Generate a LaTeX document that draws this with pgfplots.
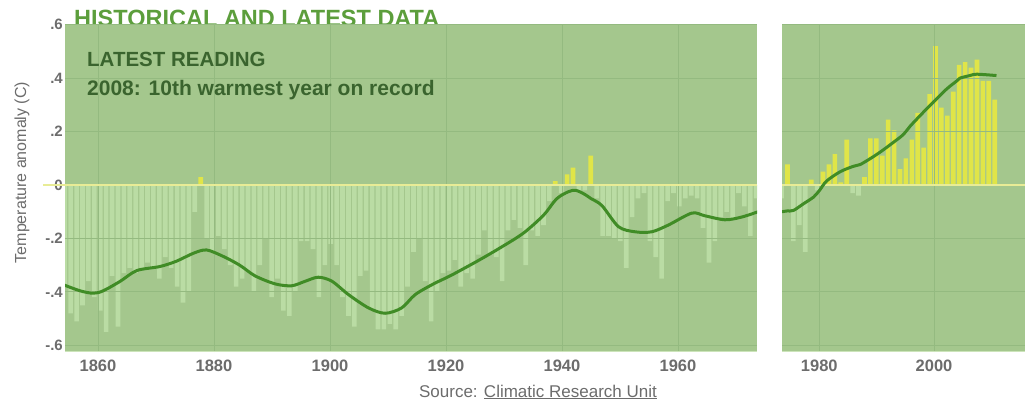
\documentclass[border=0pt]{standalone}
\usepackage{pgfplots}
\usepackage{pgfplotstable}
\pgfplotsset{compat=1.18}
\usepackage{fontspec}
\setmainfont{Liberation Sans}

\definecolor{bg}{RGB}{164,199,141}
\definecolor{barneg}{RGB}{186,220,164}
\definecolor{barpos}{RGB}{224,229,72}
\definecolor{gridc}{RGB}{148,186,128}
\definecolor{curvec}{RGB}{64,140,38}
\definecolor{zeroc}{RGB}{232,236,150}
\definecolor{titlec}{RGB}{92,158,60}
\definecolor{textc}{RGB}{58,100,46}
\definecolor{graytxt}{RGB}{108,108,108}
\definecolor{edgec}{RGB}{204,228,186}

% annual anomalies (historical part)
\pgfplotstableread{
year val
1855 -0.38
1856 -0.48
1857 -0.51
1858 -0.45
1859 -0.36
1860 -0.42
1861 -0.47
1862 -0.55
1863 -0.34
1864 -0.53
1865 -0.33
1866 -0.31
1867 -0.33
1868 -0.31
1869 -0.29
1870 -0.31
1871 -0.35
1872 -0.27
1873 -0.31
1874 -0.38
1875 -0.44
1876 -0.40
1877 -0.10
1878 0.03
1879 -0.20
1880 -0.25
1881 -0.19
1882 -0.24
1883 -0.30
1884 -0.38
1885 -0.35
1886 -0.32
1887 -0.40
1888 -0.30
1889 -0.20
1890 -0.42
1891 -0.35
1892 -0.47
1893 -0.49
1894 -0.40
1895 -0.21
1896 -0.21
1897 -0.24
1898 -0.42
1899 -0.30
1900 -0.22
1901 -0.30
1902 -0.42
1903 -0.49
1904 -0.53
1905 -0.34
1906 -0.32
1907 -0.47
1908 -0.54
1909 -0.54
1910 -0.52
1911 -0.54
1912 -0.49
1913 -0.38
1914 -0.25
1915 -0.20
1916 -0.36
1917 -0.51
1918 -0.40
1919 -0.33
1920 -0.32
1921 -0.28
1922 -0.38
1923 -0.33
1924 -0.35
1925 -0.26
1926 -0.17
1927 -0.26
1928 -0.27
1929 -0.36
1930 -0.17
1931 -0.13
1932 -0.16
1933 -0.30
1934 -0.17
1935 -0.19
1936 -0.15
1937 -0.06
1938 0.015
1939 -0.03
1940 0.04
1941 0.065
1942 -0.02
1943 -0.02
1944 0.11
1945 -0.05
1946 -0.19
1947 -0.19
1948 -0.20
1949 -0.21
1950 -0.31
1951 -0.12
1952 -0.05
1953 -0.03
1954 -0.21
1955 -0.27
1956 -0.35
1957 -0.06
1958 -0.03
1959 -0.08
1960 -0.05
1961 -0.04
1962 -0.05
1963 -0.16
1964 -0.29
1965 -0.21
1966 -0.12
1967 -0.10
1968 -0.13
1969 -0.03
1970 -0.08
1971 -0.19
1972 -0.05
}\histdata

% annual anomalies (latest part)
\pgfplotstableread{
year val
1972 -0.05
1973 0.077
1974 -0.21
1975 -0.15
1976 -0.25
1977 0.02
1978 -0.02
1979 0.05
1980 0.077
1981 0.116
1982 0.01
1983 0.17
1984 -0.03
1985 -0.04
1986 0.03
1987 0.175
1988 0.175
1989 0.11
1990 0.245
1991 0.205
1992 0.06
1993 0.10
1994 0.17
1995 0.27
1996 0.14
1997 0.34
1998 0.52
1999 0.29
2000 0.26
2001 0.35
2002 0.45
2003 0.46
2004 0.44
2005 0.47
2006 0.39
2007 0.39
2008 0.32
}\latestdata

\pgfplotsset{
  panel/.style={
    scale only axis, height=328bp,
    ymin=-0.625, ymax=0.603,
    axis on top,
    axis background/.style={fill=bg},
    axis line style={draw=none},
    major tick length=0pt,
    grid=major, grid style={gridc, line width=0.9bp},
    ytick={-0.6,-0.4,-0.2,0,0.2,0.4,0.6},
    extra y ticks={0}, extra y tick labels={},
    extra y tick style={grid style={zeroc, line width=1.2bp}},
    xticklabel style={font=\fontsize{16.5bp}{18bp}\selectfont\bfseries, text=graytxt, inner sep=0pt, anchor=north, yshift=-8bp},
    yticklabel style={font=\fontsize{15bp}{17bp}\selectfont\bfseries, text=graytxt, inner sep=0pt, anchor=east, xshift=-2bp},
  },
  negbars/.style={ybar, bar width=0.78, bar shift=0pt, draw=none, fill=barneg},
  posbars/.style={ybar, bar width=0.78, bar shift=0pt, draw=none, fill=barpos},
  trend/.style={curvec, line width=3bp, smooth, tension=0.5, no marks},
}

\begin{document}
\begin{tikzpicture}
\useasboundingbox (0,0) rectangle (1025bp,402bp);

% title, partly hidden behind the plot
\begin{scope}
\clip (0,378bp) rectangle (1025bp,402bp);
\node[anchor=base west, inner sep=0pt, text=titlec, font=\fontsize{23.5bp}{26bp}\selectfont\bfseries] at (74bp,375bp) {HISTORICAL AND LATEST DATA};
\end{scope}

\begin{axis}[panel, at={(65bp,50bp)}, anchor=south west, width=692bp,
  xmin=1855.04, xmax=1972.13,
  xtick={1860.62,1880.25,1899.88,1919.51,1939.13,1958.76},
  xticklabels={1860,1880,1900,1920,1940,1960},
  yticklabels={-.6,-.4,-.2,0,.2,.4,.6}]
\addplot[negbars] table[x=year,y expr={min(\thisrow{val},0)}] {\histdata};
\addplot[posbars] table[x=year,y expr={max(\thisrow{val},0)}] {\histdata};
\end{axis}

\begin{axis}[panel, at={(782bp,50bp)}, anchor=south west, width=243bp,
  xmin=1972.07, xmax=2013.12,
  xtick={1978.37,1997.75},
  xticklabels={1980,2000},
  yticklabels={}]
\addplot[negbars] table[x=year,y expr={min(\thisrow{val},0)}] {\latestdata};
\addplot[posbars] table[x=year,y expr={max(\thisrow{val},0)}] {\latestdata};
\end{axis}

% smoothed trend drawn above the grid
\begin{axis}[panel, at={(65bp,50bp)}, anchor=south west, width=692bp,
  xmin=1855.04, xmax=1972.13, axis background/.style={}, grid=none,
  xtick=\empty, ytick=\empty, extra y ticks={}]
\addplot[trend] coordinates {
(1855.0,-0.375) (1857.6,-0.396) (1859.8,-0.405) (1861.5,-0.396) (1864.4,-0.36)
(1867.2,-0.32) (1871.1,-0.305) (1873.9,-0.285) (1876.8,-0.255) (1879.0,-0.243)
(1881.8,-0.267) (1884.6,-0.30) (1887.2,-0.34) (1890.6,-0.37) (1893.4,-0.377)
(1895.7,-0.36) (1897.9,-0.345) (1900.2,-0.36) (1903.0,-0.41) (1906.4,-0.46)
(1909.2,-0.48) (1912.0,-0.46) (1914.3,-0.41) (1917.4,-0.37) (1920.2,-0.34)
(1924.7,-0.286) (1928.6,-0.236) (1932.6,-0.18) (1936.0,-0.113) (1938.2,-0.052)
(1940.2,-0.025) (1941.5,-0.02) (1943.0,-0.035) (1944.0,-0.05) (1945.9,-0.077)
(1948.7,-0.156) (1951.5,-0.175) (1954.3,-0.175) (1957.1,-0.15) (1961.1,-0.105)
(1963.3,-0.115) (1966.7,-0.13) (1969.5,-0.12) (1972.3,-0.10)
};
\end{axis}

\begin{axis}[panel, at={(782bp,50bp)}, anchor=south west, width=243bp,
  xmin=1972.07, xmax=2013.12, axis background/.style={}, grid=none,
  xtick=\empty, ytick=\empty, extra y ticks={}]
\addplot[trend] coordinates {
(1972.07,-0.10) (1972.9,-0.097) (1974.0,-0.095) (1975.7,-0.07) (1977.4,-0.045)
(1978.4,-0.02) (1979.6,0.015) (1981.9,0.05) (1984.1,0.07) (1985.3,0.077)
(1988.1,0.115) (1990.9,0.16) (1992.6,0.19) (1993.7,0.22) (1995.4,0.26)
(1997.6,0.31) (1999.9,0.36) (2001.6,0.39) (2002.1,0.40) (2003.8,0.41)
(2005.0,0.415) (2008.3,0.41)
};
\end{axis}

% bottom edges and zero-line stub
\draw[edgec, line width=1.5bp] (65bp,50.5bp) -- (757bp,50.5bp);
\draw[edgec, line width=1.5bp] (782bp,50.5bp) -- (1025bp,50.5bp);
\draw[zeroc, line width=1.2bp] (43bp,216.9bp) -- (65bp,216.9bp);

% texts
\node[anchor=base west, inner sep=0pt, text=textc, font=\fontsize{20.5bp}{23bp}\selectfont\bfseries] at (87bp,335.3bp) {LATEST READING};
\node[anchor=base west, inner sep=0pt, text=textc, font=\fontsize{21bp}{24bp}\selectfont\bfseries] at (87bp,306bp) {2008: 10th warmest year on record};
\node[rotate=90, inner sep=0pt, text=graytxt, font=\fontsize{16bp}{18bp}\selectfont] at (22bp,229.5bp) {Temperature anomaly (C)};
\node[anchor=base, inner sep=0pt, text=graytxt, font=\fontsize{17bp}{19bp}\selectfont] at (538bp,5bp) {Source: \underline{Climatic Research Unit}};
\end{tikzpicture}
\end{document}
